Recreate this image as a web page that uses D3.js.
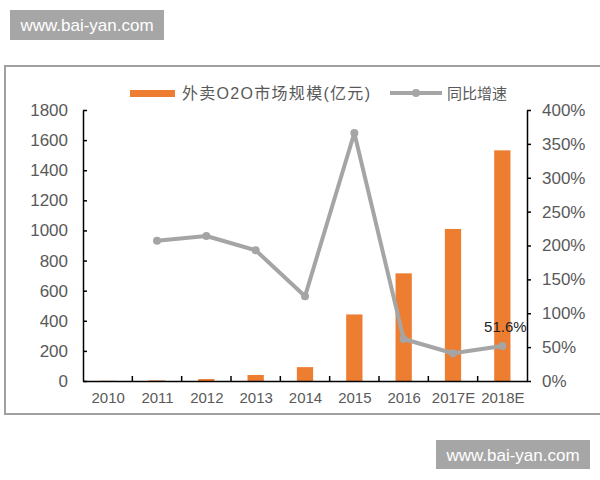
<!DOCTYPE html>
<html>
<head>
<meta charset="utf-8">
<script src="https://cdn.jsdelivr.net/npm/d3@7"></script>
<style>
  html, body { margin: 0; padding: 0; background: #fff; }
  svg { display: block; }
  text { font-family: "Liberation Sans", Arial, "Noto Sans CJK SC", sans-serif; }
</style>
</head>
<body>
<svg id="chart" width="600" height="480"></svg>
<script>
const categories = ["2010", "2011", "2012", "2013", "2014", "2015", "2016", "2017E", "2018E"];
const marketSize = [1.4, 4.2, 13, 40, 92, 442, 715, 1010, 1532];
const growthRate = [null, 2.07, 2.14, 1.93, 1.25, 3.66, 0.62, 0.41, 0.516];
const leftTicks = [0, 200, 400, 600, 800, 1000, 1200, 1400, 1600, 1800];
const rightTicks = [0, 0.5, 1, 1.5, 2, 2.5, 3, 3.5, 4];
const seriesNames = ["外卖O2O市场规模(亿元)", "同比增速"];
const labelText = "51.6%";
const watermark = "www.bai-yan.com";

const svg = d3.select("#chart");
const orange = "#ED7D31";
const grey = "#A5A5A5";
const textCol = "#595959";

const plot = { left: 83, right: 527, top: 110, bottom: 381 };

// watermarks
function wm(x, y, w, h) {
  svg.append("rect").attr("x", x).attr("y", y).attr("width", w).attr("height", h).attr("fill", "#A6A6A6");
  svg.append("text").attr("x", x + w / 2).attr("y", y + h / 2 + 6)
    .attr("text-anchor", "middle").attr("fill", "#fff").attr("font-size", 17).text(watermark);
}
wm(10, 10, 154, 30);
wm(436, 440, 154, 29);

// frame
svg.append("rect").attr("x", 5).attr("y", 66).attr("width", 600).attr("height", 348)
  .attr("fill", "none").attr("stroke", "#A0A0A0").attr("stroke-width", 2);

const x = d3.scalePoint().domain(categories).range([plot.left, plot.right]).padding(0.5);
const step = x.step();
const barW = step * 0.33;
const yL = d3.scaleLinear().domain([0, 1800]).range([plot.bottom, plot.top]);
const yR = d3.scaleLinear().domain([0, 4]).range([plot.bottom, plot.top]);

// bars
svg.append("g").selectAll("rect").data(categories).join("rect")
  .attr("x", d => x(d) - barW / 2)
  .attr("y", (d, i) => yL(marketSize[i]))
  .attr("width", barW)
  .attr("height", (d, i) => yL(0) - yL(marketSize[i]))
  .attr("fill", orange);

// left axis
const axL = svg.append("g").attr("transform", `translate(${plot.left},0)`)
  .call(d3.axisLeft(yL).tickValues(leftTicks).tickSizeInner(-4).tickSizeOuter(0).tickPadding(15)
    .tickFormat(d => String(d)));
// right axis
const axR = svg.append("g").attr("transform", `translate(${plot.right},0)`)
  .call(d3.axisRight(yR).tickValues(rightTicks).tickSizeInner(4).tickSizeOuter(0).tickPadding(11)
    .tickFormat(d => Math.round(d * 100) + "%"));
// bottom axis
const axB = svg.append("g").attr("transform", `translate(0,${plot.bottom})`)
  .call(d3.axisBottom(x).tickSize(0).tickPadding(11));
// category boundary ticks
svg.append("g").selectAll("line").data(categories.slice(1)).join("line")
  .attr("x1", d => x(d) - step / 2).attr("x2", d => x(d) - step / 2)
  .attr("y1", plot.bottom).attr("y2", plot.bottom - 5)
  .attr("stroke", "#000").attr("stroke-width", 1.5);

[axL, axR, axB].forEach(g => {
  g.select(".domain").attr("stroke", "#000").attr("stroke-width", 1.5);
  g.selectAll(".tick line").attr("stroke", "#000").attr("stroke-width", 1.5);
  g.selectAll(".tick text").attr("fill", textCol).attr("font-family", "'Liberation Sans', Arial, sans-serif");
});
axL.selectAll(".tick text").attr("font-size", 17);
axR.selectAll(".tick text").attr("font-size", 17);
axB.selectAll(".tick text").attr("font-size", 15);

// line
const pts = categories.map((c, i) => ({ c, v: growthRate[i] })).filter(d => d.v !== null);
svg.append("path").datum(pts)
  .attr("d", d3.line().x(d => x(d.c)).y(d => yR(d.v)))
  .attr("fill", "none").attr("stroke", grey).attr("stroke-width", 4).attr("stroke-linejoin", "round");
svg.append("g").selectAll("circle").data(pts).join("circle")
  .attr("cx", d => x(d.c)).attr("cy", d => yR(d.v)).attr("r", 4).attr("fill", grey);

// data label
const last = pts[pts.length - 1];
svg.append("text").attr("x", x(last.c) + 3).attr("y", yR(last.v) - 14)
  .attr("text-anchor", "middle").attr("font-size", 15).attr("fill", "#222").text(labelText);

// legend
const lg = svg.append("g");
lg.append("rect").attr("x", 130).attr("y", 90).attr("width", 45).attr("height", 7).attr("fill", orange);
lg.append("text").attr("x", 182).attr("y", 99).attr("font-size", 16).attr("fill", textCol)
  .attr("font-family", "'Noto Sans CJK SC', sans-serif")
  .attr("textLength", 188).attr("lengthAdjust", "spacing").text(seriesNames[0]);
lg.append("line").attr("x1", 390).attr("x2", 442).attr("y1", 93).attr("y2", 93)
  .attr("stroke", grey).attr("stroke-width", 4);
lg.append("circle").attr("cx", 416).attr("cy", 93).attr("r", 4).attr("fill", grey);
lg.append("text").attr("x", 447).attr("y", 99).attr("font-size", 15).attr("fill", textCol)
  .attr("font-family", "'Noto Sans CJK SC', sans-serif").text(seriesNames[1]);
</script>
</body>
</html>
